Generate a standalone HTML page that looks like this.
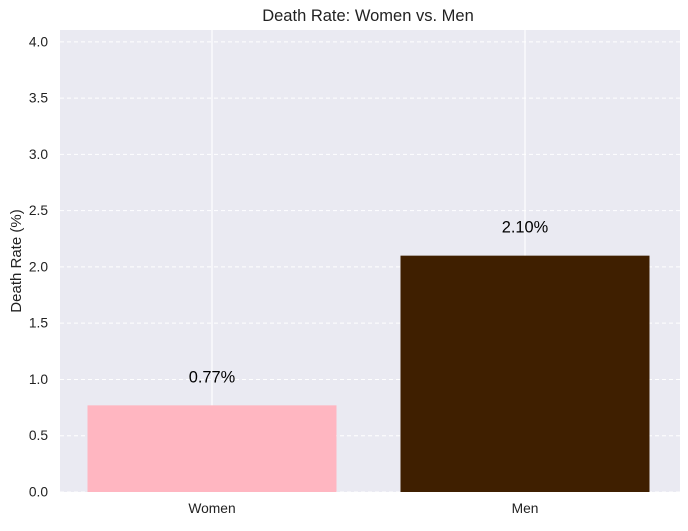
<!DOCTYPE html>
<html><head><meta charset="utf-8"><style>
body{margin:0;background:#fff;font-family:"Liberation Sans",sans-serif}
svg text{font-family:"Liberation Sans",sans-serif}
</style></head><body>
<svg width="688" height="526" xmlns="http://www.w3.org/2000/svg">
<rect x="60" y="30" width="620" height="462" fill="#eaeaf2"/>
<g id="grid"></g><g id="bars"></g><g id="ticks"></g>
<text x="368" y="21" text-anchor="middle" font-size="16.5" fill="#222">Death Rate: Women vs. Men</text>
<text transform="translate(21,261) rotate(-90)" text-anchor="middle" font-size="15" fill="#222">Death Rate (%)</text>
</svg>
<script>
const categories=["Women","Men"];
const values=[0.77,2.10];
const labels=["0.77%","2.10%"];
const colors=["#ffb6c1","#3f1f00"];
const yTicks=[0,0.5,1,1.5,2,2.5,3,3.5,4];
const yMax=4.105;
const X0=60,X1=680,Y0=492,Y1=30;
const ns="http://www.w3.org/2000/svg";
function y(v){return Y0-(v/yMax)*(Y0-Y1);}
function xc(i){return 212+i*313;}
const bw=249;
function mk(t,a,p){const e=document.createElementNS(ns,t);for(const k in a)e.setAttribute(k,a[k]);document.getElementById(p).appendChild(e);return e;}
yTicks.forEach(t=>{
 const l=mk('line',{x1:X0,x2:X1,y1:y(t),y2:y(t),stroke:'#fff','stroke-dasharray':'4,3','stroke-width':1},'grid');
 
 
 const tx=mk('text',{x:48,y:y(t)+4.5,'text-anchor':'end','font-size':13.8,fill:'#222'},'ticks');
 tx.textContent=t.toFixed(1);
 
 
});
categories.forEach((c,i)=>{
 const g=mk('line',{x1:xc(i),x2:xc(i),y1:Y1,y2:Y0,stroke:'#fff','stroke-width':1.2},'grid');
 
 
 const r=mk('rect',{x:xc(i)-bw/2,y:y(values[i]),width:bw,height:Y0-y(values[i]),fill:colors[i]},'bars');
 
 
 const v=mk('text',{x:xc(i),y:y(values[i])-23,'text-anchor':'middle','font-size':16.4,fill:'#000'},'bars');
 v.textContent=labels[i];
 
 
 const t=mk('text',{x:xc(i),y:513,'text-anchor':'middle','font-size':13.8,fill:'#222'},'ticks');
 t.textContent=c;
 
 
});
</script>
</body></html>
